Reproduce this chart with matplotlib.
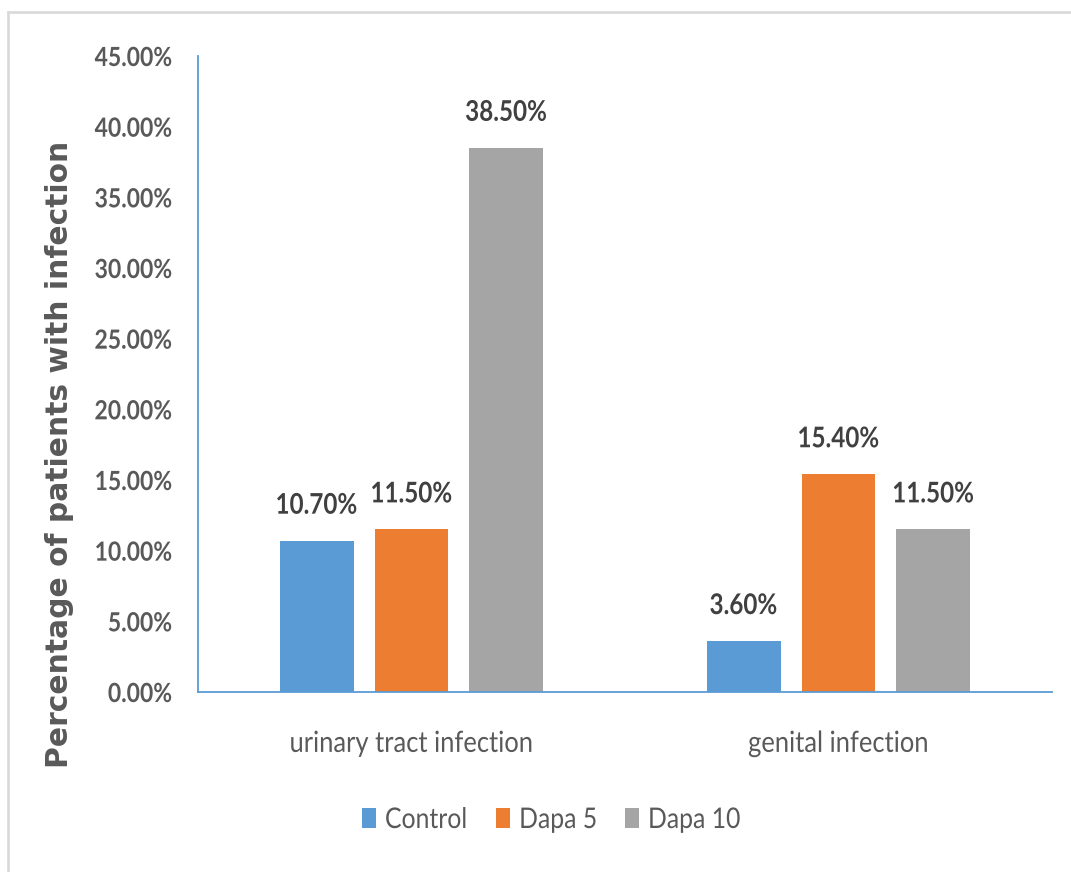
import matplotlib
matplotlib.use("Agg")
import matplotlib.pyplot as plt
from matplotlib.patheffects import AbstractPathEffect
from matplotlib.transforms import Affine2D
from matplotlib.ticker import FixedLocator, FuncFormatter
import numpy as np

categories = ["urinary tract infection", "genital infection"]
series_names = ["Control", "Dapa 5", "Dapa 10"]
control = [10.70, 3.60]
dapa5 = [11.50, 15.40]
dapa10 = [38.50, 11.50]
yticks = [0, 5, 10, 15, 20, 25, 30, 35, 40, 45]

colors = ["#5B9BD5", "#ED7D31", "#A5A5A5"]
text_color = "#595959"
value_color = "#404040"
narrow = ["Lato", "DejaVu Sans"]


class Condense(AbstractPathEffect):
    """Squeeze glyph outlines horizontally around a pivot on the baseline."""

    def __init__(self, sx=0.85, anchor="center"):
        super().__init__()
        self.sx = sx
        self.anchor = anchor

    def draw_path(self, renderer, gc, tpath, affine, rgbFace=None):
        v = tpath.vertices
        x0, x1 = (v[:, 0].min(), v[:, 0].max()) if len(v) else (0.0, 0.0)
        px = {"left": x0, "right": x1}.get(self.anchor, 0.5 * (x0 + x1))
        t = Affine2D().translate(-px, 0).scale(self.sx, 1.0).translate(px, 0) + affine
        renderer.draw_path(gc, tpath, t, rgbFace)


fig = plt.figure(figsize=(10.71, 8.72), dpi=100)
ax = fig.add_axes([198 / 1071, 1 - 692 / 872, (1052 - 198) / 1071, (692 - 56) / 872])

x = np.arange(len(categories))
width = 0.173
step = 0.222
for i, (vals, name, col) in enumerate(zip([control, dapa5, dapa10], series_names, colors)):
    pos = x + (i - 1) * step
    ax.bar(pos, vals, width=width, color=col, label=name, zorder=2)
    for px, v in zip(pos, vals):
        ax.annotate(f"{v:.2f}%", (px, v), xytext=(0, 19.5), textcoords="offset points",
                    ha="center", va="baseline", fontsize=20.5, fontweight="bold",
                    family=narrow, color=value_color,
                    path_effects=[Condense(0.85, "center")])

ax.set_xlim(-0.5, 1.5)
ax.set_ylim(0, 45)
ax.yaxis.set_major_locator(FixedLocator(yticks))
ax.yaxis.set_major_formatter(FuncFormatter(lambda v, p: f"{v:.2f}%"))
ax.set_xticks(x)
ax.set_xticklabels(categories)
ax.tick_params(axis="y", length=0, pad=18.7)
ax.tick_params(axis="x", length=0, pad=28)

for t in ax.yaxis.get_major_ticks():
    lab = t.label1
    lab.set_family(narrow)
    lab.set_fontsize(19)
    lab.set_fontweight("bold")
    lab.set_color(text_color)
    lab.set_path_effects([Condense(0.87, "right")])
for t in ax.xaxis.get_major_ticks():
    lab = t.label1
    lab.set_family(narrow)
    lab.set_fontsize(21)
    lab.set_color(text_color)
    lab.set_path_effects([Condense(0.875, "center")])

for s in ["top", "right"]:
    ax.spines[s].set_visible(False)
for s in ["left", "bottom"]:
    ax.spines[s].set_color("#5B9BD5")
    ax.spines[s].set_linewidth(1.3)

fig.text(60 / 1071, 1 - 454 / 872, "Percentage of patients with infection", rotation=90,
         ha="center", va="center", fontsize=21.4, fontweight="bold",
         family="DejaVu Sans", color=text_color)

leg = fig.legend(loc="center", bbox_to_anchor=(558 / 1071, 1 - 820 / 872), ncol=3,
                 frameon=False, prop={"family": narrow, "size": 20.5},
                 handlelength=0.5, handleheight=0.72,
                 handletextpad=0.32, columnspacing=0.55)
for t in leg.get_texts():
    t.set_color(text_color)
    t.set_path_effects([Condense(0.87, "left")])

# thin frame along the top and left of the canvas
fig.add_artist(plt.Line2D([8 / 1071, 1], [1 - 12 / 872, 1 - 12 / 872], color="#D9D9D9", lw=1.9))
fig.add_artist(plt.Line2D([8 / 1071, 8 / 1071], [0, 1 - 12 / 872], color="#D9D9D9", lw=1.9))

fig.savefig("out.png", dpi=100)
